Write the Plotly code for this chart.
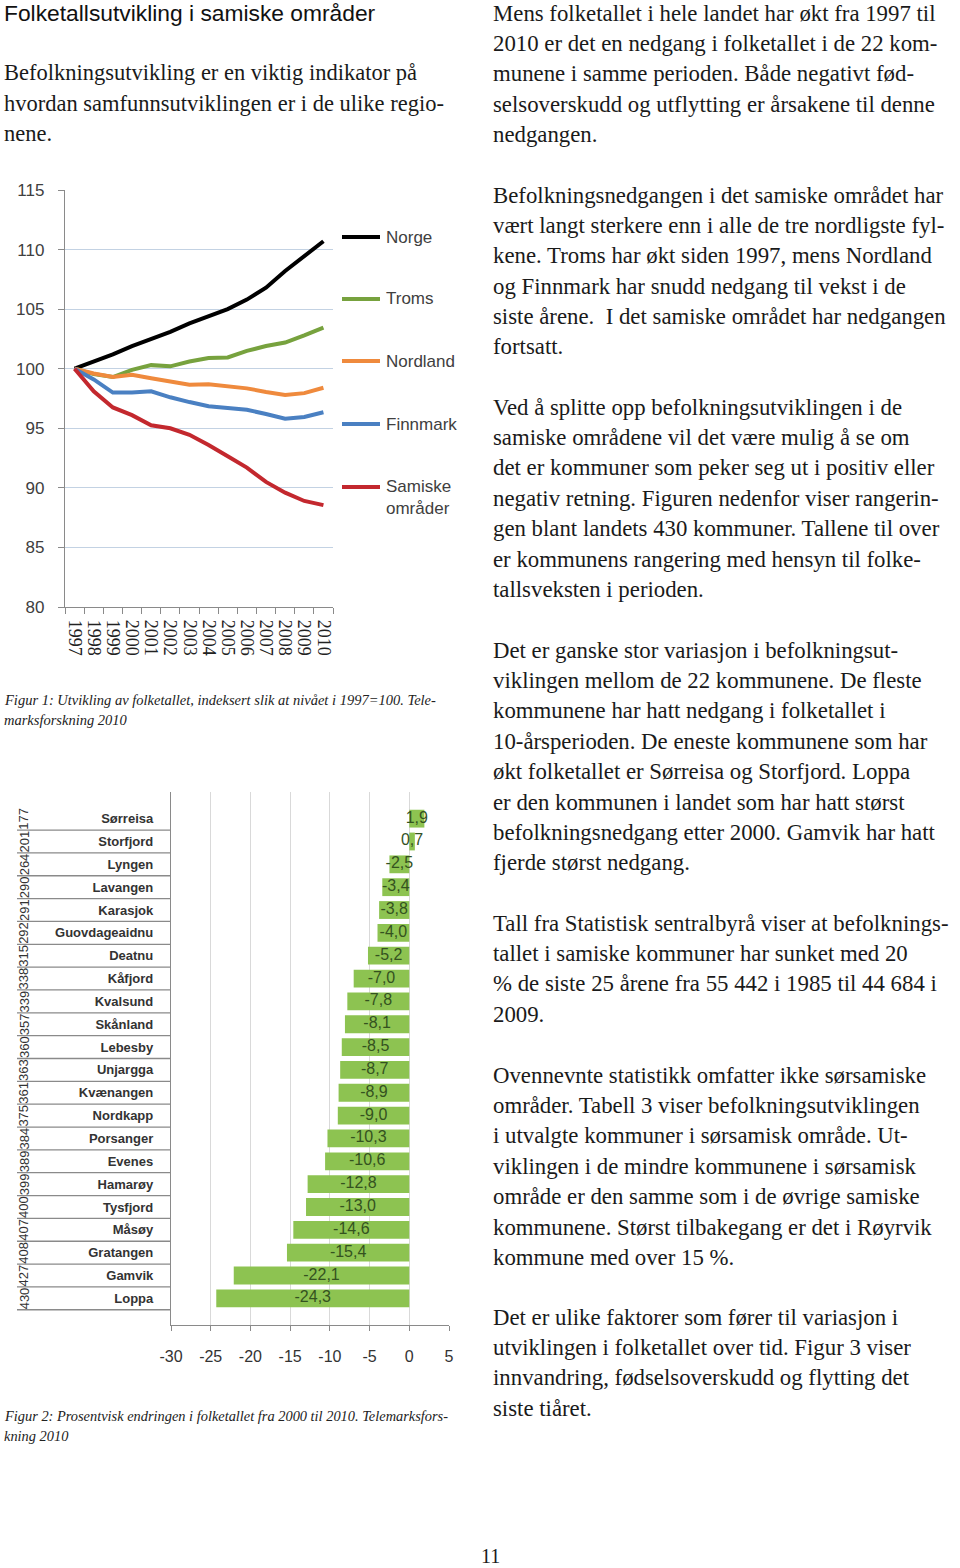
import plotly.graph_objects as go

W, H = 960, 1568

# ---------------- data: figure 1 (index, 1997 = 100) ----------------
years = ["1997", "1998", "1999", "2000", "2001", "2002", "2003",
         "2004", "2005", "2006", "2007", "2008", "2009", "2010"]
norge = [100.0, 100.6, 101.2, 101.9, 102.5, 103.1, 103.8,
         104.4, 105.0, 105.8, 106.8, 108.2, 109.4, 110.7]
troms = [100.0, 99.55, 99.3, 99.9, 100.3, 100.2, 100.6,
         100.9, 100.95, 101.5, 101.9, 102.2, 102.8, 103.45]
nordland = [100.0, 99.6, 99.3, 99.5, 99.2, 98.9, 98.65,
            98.7, 98.55, 98.35, 98.05, 97.8, 97.95, 98.4]
finnmark = [100.0, 99.1, 98.0, 98.0, 98.1, 97.6, 97.2,
            96.85, 96.7, 96.55, 96.2, 95.8, 95.95, 96.35]
samiske = [100.0, 98.1, 96.75, 96.1, 95.25, 95.0, 94.45,
           93.6, 92.65, 91.7, 90.5, 89.6, 88.9, 88.55]
series_names = ["Norge", "Troms", "Nordland", "Finnmark", "Samiske<br>områder"]
series_values = [norge, troms, nordland, finnmark, samiske]
series_colors = ["#000000", "#77a23e", "#ef8a3d", "#4a80c2", "#c3282e"]
y1_ticks = [80, 85, 90, 95, 100, 105, 110, 115]

# ---------------- data: figure 2 (% change 2000-2010) ----------------
kommuner = ["Sørreisa", "Storfjord", "Lyngen", "Lavangen", "Karasjok",
            "Guovdageaidnu", "Deatnu", "Kåfjord", "Kvalsund", "Skånland",
            "Lebesby", "Unjargga", "Kvænangen", "Nordkapp", "Porsanger",
            "Evenes", "Hamarøy", "Tysfjord", "Måsøy", "Gratangen",
            "Gamvik", "Loppa"]
endring = [1.9, 0.7, -2.5, -3.4, -3.8, -4.0, -5.2, -7.0, -7.8, -8.1,
           -8.5, -8.7, -8.9, -9.0, -10.3, -10.6, -12.8, -13.0, -14.6,
           -15.4, -22.1, -24.3]
rangering = [177, 201, 264, 290, 291, 292, 315, 338, 339, 357, 360, 363,
             361, 375, 384, 389, 399, 400, 407, 408, 427, 430]
x2_ticks = [-30, -25, -20, -15, -10, -5, 0, 5]

# ---------------- page text ----------------
title_text = "Folketallsutvikling i samiske områder"
left_par = ["Befolkningsutvikling er en viktig indikator på",
            "hvordan samfunnsutviklingen er i de ulike regio-",
            "nene."]
caption1 = ["Figur 1: Utvikling av folketallet, indeksert slik at nivået i 1997=100. Tele-",
            "marksforskning 2010"]
caption2 = ["Figur 2: Prosentvisk endringen i folketallet fra 2000 til 2010. Telemarksfors-",
            "kning 2010"]
right_pars = [
    ["Mens folketallet i hele landet har økt fra 1997 til",
     "2010 er det en nedgang i folketallet i de 22 kom-",
     "munene i samme perioden. Både negativt fød-",
     "selsoverskudd og utflytting er årsakene til denne",
     "nedgangen."],
    ["Befolkningsnedgangen i det samiske området har",
     "vært langt sterkere enn i alle de tre nordligste fyl-",
     "kene. Troms har økt siden 1997, mens Nordland",
     "og Finnmark har snudd nedgang til vekst i de",
     "siste årene.  I det samiske området har nedgangen",
     "fortsatt."],
    ["Ved å splitte opp befolkningsutviklingen i de",
     "samiske områdene vil det være mulig å se om",
     "det er kommuner som peker seg ut i positiv eller",
     "negativ retning. Figuren nedenfor viser rangerin-",
     "gen blant landets 430 kommuner. Tallene til over",
     "er kommunens rangering med hensyn til folke-",
     "tallsveksten i perioden."],
    ["Det er ganske stor variasjon i befolkningsut-",
     "viklingen mellom de 22 kommunene. De fleste",
     "kommunene har hatt nedgang i folketallet i",
     "10-årsperioden. De eneste kommunene som har",
     "økt folketallet er Sørreisa og Storfjord. Loppa",
     "er den kommunen i landet som har hatt størst",
     "befolkningsnedgang etter 2000. Gamvik har hatt",
     "fjerde størst nedgang."],
    ["Tall fra Statistisk sentralbyrå viser at befolknings-",
     "tallet i samiske kommuner har sunket med 20",
     "% de siste 25 årene fra 55 442 i 1985 til 44 684 i",
     "2009."],
    ["Ovennevnte statistikk omfatter ikke sørsamiske",
     "områder. Tabell 3 viser befolkningsutviklingen",
     "i utvalgte kommuner i sørsamisk område. Ut-",
     "viklingen i de mindre kommunene i sørsamisk",
     "område er den samme som i de øvrige samiske",
     "kommunene. Størst tilbakegang er det i Røyrvik",
     "kommune med over 15 %."],
    ["Det er ulike faktorer som fører til variasjon i",
     "utviklingen i folketallet over tid. Figur 3 viser",
     "innvandring, fødselsoverskudd og flytting det",
     "siste tiåret."],
]
page_number = "11"

# ---------------- layout helpers ----------------
def px(x, y):
    return x / W, 1 - y / H

SERIF = "Liberation Serif, Times New Roman, serif"
SANS = "Liberation Sans, Arial, sans-serif"
LINE_STEP = 30.4
right_par_starts = [13, 195, 407, 650, 923, 1075, 1317]

annotations = []
shapes = []

def text_line(x, y, s, size, family, color="#1a1a1a", italic=False):
    xx, yy = px(x, y)
    annotations.append(dict(
        x=xx, y=yy, xref="paper", yref="paper", xanchor="left", yanchor="middle",
        text=("<i>%s</i>" % s) if italic else s, showarrow=False, borderpad=0,
        font=dict(size=size, family=family, color=color)))

text_line(3, 13, title_text, 22.8, SANS, "#111111")
for i, s in enumerate(left_par):
    text_line(3, 73 + i * LINE_STEP, s, 22.5, SERIF)
for i, s in enumerate(caption1):
    text_line(3, 700 + i * 20, s, 14.5, SERIF, "#222222", italic=True)
for i, s in enumerate(caption2):
    text_line(3, 1416 + i * 20, s, 14.4, SERIF, "#222222", italic=True)
for start, par in zip(right_par_starts, right_pars):
    for i, s in enumerate(par):
        text_line(492, start + i * LINE_STEP, s, 22.8, SERIF)
text_line(480, 1556, page_number, 20, SERIF)

fig = go.Figure()

# ---------------- figure 1: lines ----------------
for name, vals, col in zip(series_names, series_values, series_colors):
    fig.add_trace(go.Scatter(x=years, y=vals, mode="lines", name=name,
                             line=dict(color=col, width=4), showlegend=False,
                             xaxis="x", yaxis="y"))

# custom legend (swatch + label)
legend_y = [237, 299, 361, 424, 487]
for name, col, ly in zip(series_names, series_colors, legend_y):
    x0, y0 = px(342, ly)
    x1, _ = px(380, ly)
    shapes.append(dict(type="line", xref="paper", yref="paper", x0=x0, x1=x1,
                       y0=y0, y1=y0, line=dict(color=col, width=4)))
    xl, yl = px(385, ly)
    annotations.append(dict(x=xl, y=yl, xref="paper", yref="paper",
                            xanchor="left", yanchor="top" if "<br>" in name else "middle",
                            yshift=11 if "<br>" in name else 0, borderpad=0,
                            text=name, showarrow=False, align="left",
                            font=dict(size=17, family=SANS, color="#404040")))

# ---------------- figure 2: bars ----------------
fig.add_trace(go.Bar(y=kommuner, x=endring, orientation="h",
                     marker=dict(color="#8dc351", line=dict(width=0)),
                     showlegend=False, xaxis="x2", yaxis="y2"))
bar_labels = [("%.1f" % v).replace(".", ",") for v in endring]
fig.add_trace(go.Scatter(y=kommuner, x=[v / 2 for v in endring], mode="text",
                         text=bar_labels, textposition="middle center",
                         textfont=dict(size=16, family=SANS, color="#34521f"),
                         showlegend=False, xaxis="x2", yaxis="y2", cliponaxis=False))

# rank numbers (rotated) and separator lines in label area
for i, (k, r) in enumerate(zip(kommuner, rangering)):
    annotations.append(dict(x=24 / W, y=k, xref="paper", yref="y2",
                            text=str(r), textangle=-90, showarrow=False,
                            xanchor="center", yanchor="middle", borderpad=0,
                            font=dict(size=13, family=SANS, color="#333333")))
    shapes.append(dict(type="line", xref="paper", yref="y2",
                       x0=17 / W, x1=171 / W, y0=i + 0.5, y1=i + 0.5,
                       line=dict(color="#8a8a8a", width=1.3)))

fig.update_layout(
    template="none",
    width=W, height=H, margin=dict(l=0, r=0, t=0, b=0, pad=0, autoexpand=False),
    paper_bgcolor="white", plot_bgcolor="white",
    showlegend=False,
    xaxis=dict(domain=[65 / W, 333 / W], type="category", range=[-0.5, 13.5],
               tickmode="array", tickvals=years, automargin=False,
               showgrid=False, showline=True, linecolor="#8a8a8a", linewidth=1.3,
               ticks="outside", ticklen=6, tickcolor="#8a8a8a", tickson="boundaries",
               ticklabelstandoff=8,
               tickangle=90, tickfont=dict(size=18, family=SERIF, color="#222222"),
               anchor="y", fixedrange=True, zeroline=False),
    yaxis=dict(domain=[1 - 607 / H, 1 - 190 / H], range=[80, 115], automargin=False,
               tickmode="array", tickvals=y1_ticks,
               showgrid=True, gridcolor="#c3d2e3", gridwidth=1,
               showline=True, linecolor="#8a8a8a", linewidth=1.3, zeroline=False,
               ticks="outside", ticklen=6, tickcolor="#8a8a8a", ticklabelstandoff=10,
               tickfont=dict(size=17, family=SANS, color="#404040"),
               anchor="x", fixedrange=True),
    xaxis2=dict(domain=[171 / W, 449 / W], range=[-30, 5], automargin=False,
                tickmode="array", tickvals=x2_ticks, ticktext=[str(v) for v in x2_ticks],
                showgrid=True, gridcolor="#d9d9d9", gridwidth=1, zeroline=False,
                showline=True, linecolor="#8a8a8a", linewidth=1.3,
                ticks="outside", ticklen=5, tickcolor="#8a8a8a", ticklabelstandoff=12,
                tickfont=dict(size=16, family=SANS, color="#333333"),
                anchor="y2", fixedrange=True),
    yaxis2=dict(domain=[1 - 1325 / H, 1 - 792 / H], type="category", automargin=False,
                categoryorder="array", categoryarray=kommuner, autorange="reversed",
                showgrid=False, showline=True, linecolor="#8a8a8a", linewidth=1.3,
                ticks="", ticklabelstandoff=14, zeroline=False,
                tickfont=dict(size=13, family=SANS, color="#333333", weight="bold"),
                anchor="x2", fixedrange=True),
    bargap=0.22,
    annotations=annotations,
    shapes=shapes,
)

fig.write_html("out.html", config={"displayModeBar": False},
               post_script="document.body.style.margin='0';document.body.style.padding='0';")
